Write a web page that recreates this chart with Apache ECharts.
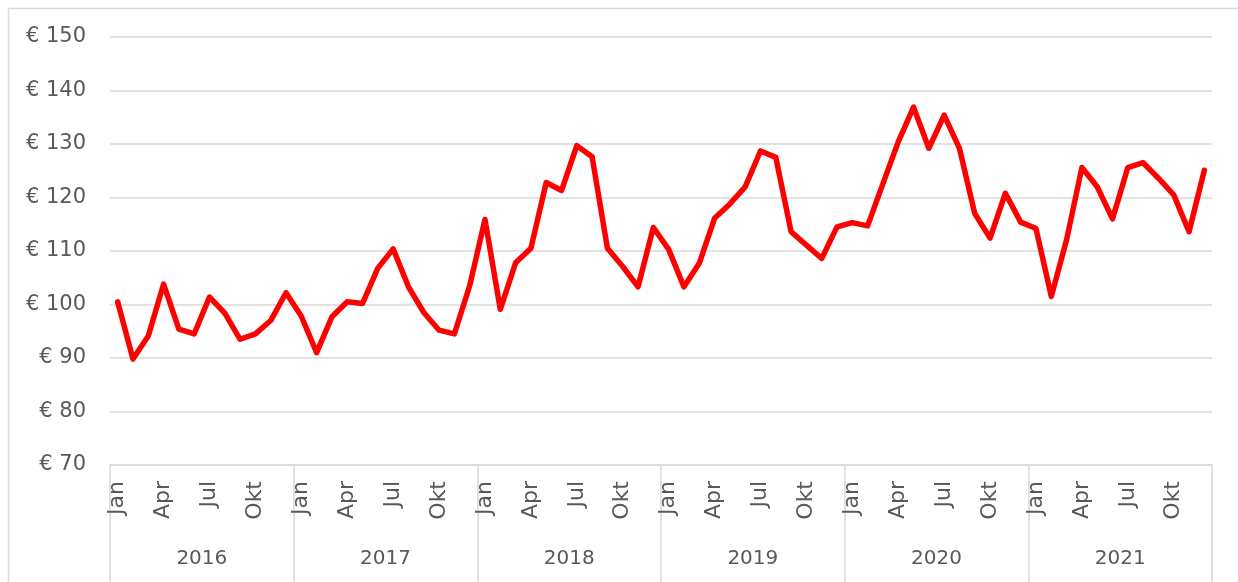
<!DOCTYPE html>
<html>
<head>
<meta charset="utf-8">
<title>Monthly price</title>
<script src="https://cdn.jsdelivr.net/npm/echarts@6/dist/echarts.min.js"></script>
<style>
    html, body { margin: 0; padding: 0; background: #fff; }
    #chart { width: 1238px; height: 582px; }
</style>
</head>
<body>
<div id="chart"></div>
<script>
// Data
const years = ['2016', '2017', '2018', '2019', '2020', '2021'];
const monthNames = ['Jan', 'Feb', 'Mär', 'Apr', 'Mai', 'Jun', 'Jul', 'Aug', 'Sep', 'Okt', 'Nov', 'Dez'];

const values2016 = [100.5, 89.8, 94.1, 103.8, 95.4, 94.5, 101.4, 98.4, 93.5, 94.5, 97.0, 102.2];
const values2017 = [97.8, 91.0, 97.7, 100.5, 100.2, 106.8, 110.4, 103.3, 98.5, 95.2, 94.5, 103.5];
const values2018 = [115.9, 99.1, 107.8, 110.5, 122.8, 121.3, 129.7, 127.6, 110.5, 107.1, 103.3, 114.4];
const values2019 = [110.3, 103.3, 107.7, 116.1, 118.8, 122.0, 128.7, 127.5, 113.6, 111.1, 108.6, 114.5];
const values2020 = [115.3, 114.7, 122.6, 130.4, 136.9, 129.2, 135.4, 129.2, 117.0, 112.4, 120.8, 115.4];
const values2021 = [114.2, 101.5, 112.1, 125.6, 122.0, 116.0, 125.6, 126.5, 123.6, 120.5, 113.6, 125.1];

const yMin = 70;
const yMax = 150;
const yStep = 10;

// Build the monthly categories and the flat series
const months = [];
years.forEach(() => monthNames.forEach(m => months.push(m)));
const prices = [].concat(values2016, values2017, values2018, values2019, values2020, values2021);

const textColor = '#595959';
const lineColor = '#d9d9d9';
const fontFamily = '"Century Gothic", "DejaVu Sans", sans-serif';

const chart = echarts.init(document.getElementById('chart'));

chart.setOption({
    animation: false,
    graphic: [{
        // outer chart border
        type: 'rect',
        shape: { x: 8.5, y: 8.5, width: 1260, height: 600 },
        style: { fill: 'none', stroke: lineColor, lineWidth: 1.5 },
        silent: true
    }],
    grid: {
        left: 110,
        right: 26,
        top: 37,
        bottom: 117
    },
    xAxis: [
        {
            type: 'category',
            data: months,
            boundaryGap: true,
            axisLine: { show: true, lineStyle: { color: lineColor, width: 1.5 } },
            axisTick: { show: false },
            axisLabel: {
                rotate: 90,
                margin: 16,
                color: textColor,
                fontSize: 22,
                fontFamily: fontFamily,
                interval: function (idx) { return idx % 3 === 0; }
            },
            splitLine: { show: false }
        },
        {
            type: 'category',
            data: years,
            position: 'bottom',
            boundaryGap: true,
            axisLine: { show: false },
            axisTick: {
                show: true,
                interval: 0,
                length: 120,
                lineStyle: { color: lineColor, width: 1.5 }
            },
            axisLabel: {
                margin: 84,
                color: textColor,
                fontSize: 20,
                fontFamily: fontFamily,
                interval: 0
            },
            splitLine: { show: false }
        }
    ],
    yAxis: {
        type: 'value',
        min: yMin,
        max: yMax,
        interval: yStep,
        axisLine: { show: false },
        axisTick: { show: false },
        axisLabel: {
            margin: 24,
            color: textColor,
            fontSize: 21,
            fontFamily: fontFamily,
            formatter: function (v) { return '€ ' + v; }
        },
        splitLine: { lineStyle: { color: lineColor, width: 1.5 } }
    },
    series: [{
        type: 'line',
        data: prices,
        xAxisIndex: 0,
        showSymbol: false,
        symbol: 'none',
        lineStyle: { color: '#ff0000', width: 5.5, join: 'round', cap: 'round' }
    }]
});
</script>
</body>
</html>
